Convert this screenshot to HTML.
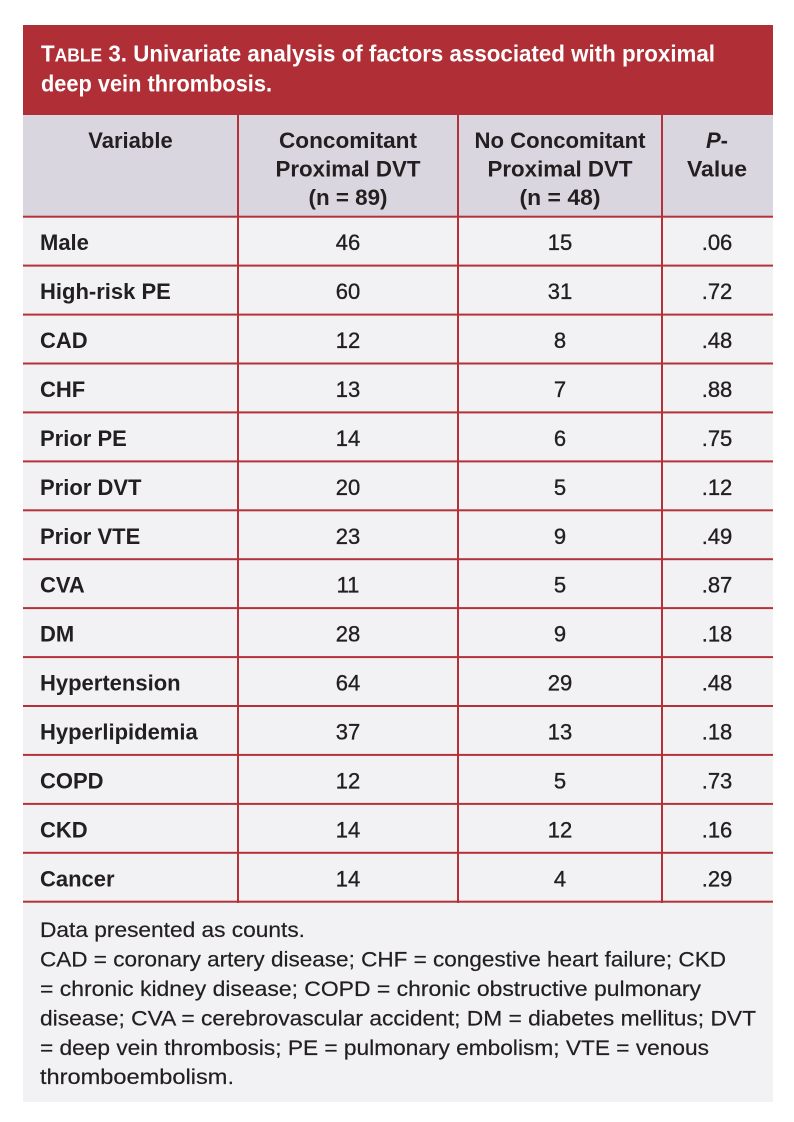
<!DOCTYPE html>
<html>
<head>
<meta charset="utf-8">
<style>
  html, body { margin: 0; padding: 0; background: #ffffff; }
  body { width: 794px; height: 1122px; overflow: hidden; }
  svg { display: block; }
  text { font-family: "Liberation Sans", "DejaVu Sans", sans-serif; fill: #231f20; }
  .t { fill: #ffffff; font-weight: bold; font-size: 23px; }
  .h { font-weight: bold; font-size: 22px; }
  .l { font-weight: bold; font-size: 22px; }
  .n { font-size: 22px; stroke: #231f20; stroke-width: 0.35px; }
  .f { font-size: 21px; stroke: #231f20; stroke-width: 0.2px; }
</style>
</head>
<body>
<svg width="794" height="1122" viewBox="0 0 794 1122" xmlns="http://www.w3.org/2000/svg">
  <!-- title bar -->
  <rect x="23" y="25" width="750" height="90" fill="#b02f36"/>
  <text class="t" x="41" y="61.7" textLength="674" lengthAdjust="spacingAndGlyphs">T<tspan font-size="18">ABLE</tspan> 3. Univariate analysis of factors associated with proximal</text>
  <text class="t" x="41" y="91.5" textLength="231" lengthAdjust="spacingAndGlyphs">deep vein thrombosis.</text>

  <!-- header row -->
  <rect x="23" y="115" width="750" height="102" fill="#d9d6df"/>
  <!-- body rows -->
  <rect x="23" y="217" width="750" height="885" fill="#f2f2f4"/>

  <!-- header text -->
  <text class="h" x="130.5" y="148" text-anchor="middle">Variable</text>
  <text class="h" x="348" y="148" text-anchor="middle" textLength="138" lengthAdjust="spacingAndGlyphs">Concomitant</text>
  <text class="h" x="348" y="176.5" text-anchor="middle" textLength="145" lengthAdjust="spacingAndGlyphs">Proximal DVT</text>
  <text class="h" x="348" y="205" text-anchor="middle" textLength="79" lengthAdjust="spacingAndGlyphs">(n = 89)</text>
  <text class="h" x="560" y="148" text-anchor="middle" textLength="171" lengthAdjust="spacingAndGlyphs">No Concomitant</text>
  <text class="h" x="560" y="176.5" text-anchor="middle" textLength="145" lengthAdjust="spacingAndGlyphs">Proximal DVT</text>
  <text class="h" x="560" y="205" text-anchor="middle" textLength="81" lengthAdjust="spacingAndGlyphs">(n = 48)</text>
  <text class="h" x="717" y="148" text-anchor="middle"><tspan font-style="italic">P</tspan>-</text>
  <text class="h" x="717" y="176.5" text-anchor="middle" textLength="60" lengthAdjust="spacingAndGlyphs">Value</text>

  <!-- grid lines -->
  <g fill="#b3323a">
    <rect x="237" y="115" width="2" height="788"/>
    <rect x="457" y="115" width="2" height="788"/>
    <rect x="661" y="115" width="2" height="788"/>
    <rect x="23" y="215.7" width="750" height="2"/>
    <rect x="23" y="264.6" width="750" height="2"/>
    <rect x="23" y="313.6" width="750" height="2"/>
    <rect x="23" y="362.5" width="750" height="2"/>
    <rect x="23" y="411.4" width="750" height="2"/>
    <rect x="23" y="460.4" width="750" height="2"/>
    <rect x="23" y="509.3" width="750" height="2"/>
    <rect x="23" y="558.2" width="750" height="2"/>
    <rect x="23" y="607.1" width="750" height="2"/>
    <rect x="23" y="656.1" width="750" height="2"/>
    <rect x="23" y="705.0" width="750" height="2"/>
    <rect x="23" y="753.9" width="750" height="2"/>
    <rect x="23" y="802.9" width="750" height="2"/>
    <rect x="23" y="851.8" width="750" height="2"/>
    <rect x="23" y="900.7" width="750" height="2"/>
  </g>

  <!-- rows -->
  <g>
    <text class="l" x="40" y="250.2">Male</text>
    <text class="n" x="348" y="250.2" text-anchor="middle">46</text>
    <text class="n" x="560" y="250.2" text-anchor="middle">15</text>
    <text class="n" x="717" y="250.2" text-anchor="middle">.06</text>

    <text class="l" x="40" y="299.1">High-risk PE</text>
    <text class="n" x="348" y="299.1" text-anchor="middle">60</text>
    <text class="n" x="560" y="299.1" text-anchor="middle">31</text>
    <text class="n" x="717" y="299.1" text-anchor="middle">.72</text>

    <text class="l" x="40" y="348.1">CAD</text>
    <text class="n" x="348" y="348.1" text-anchor="middle">12</text>
    <text class="n" x="560" y="348.1" text-anchor="middle">8</text>
    <text class="n" x="717" y="348.1" text-anchor="middle">.48</text>

    <text class="l" x="40" y="397.0">CHF</text>
    <text class="n" x="348" y="397.0" text-anchor="middle">13</text>
    <text class="n" x="560" y="397.0" text-anchor="middle">7</text>
    <text class="n" x="717" y="397.0" text-anchor="middle">.88</text>

    <text class="l" x="40" y="445.9">Prior PE</text>
    <text class="n" x="348" y="445.9" text-anchor="middle">14</text>
    <text class="n" x="560" y="445.9" text-anchor="middle">6</text>
    <text class="n" x="717" y="445.9" text-anchor="middle">.75</text>

    <text class="l" x="40" y="494.9">Prior DVT</text>
    <text class="n" x="348" y="494.9" text-anchor="middle">20</text>
    <text class="n" x="560" y="494.9" text-anchor="middle">5</text>
    <text class="n" x="717" y="494.9" text-anchor="middle">.12</text>

    <text class="l" x="40" y="543.8">Prior VTE</text>
    <text class="n" x="348" y="543.8" text-anchor="middle">23</text>
    <text class="n" x="560" y="543.8" text-anchor="middle">9</text>
    <text class="n" x="717" y="543.8" text-anchor="middle">.49</text>

    <text class="l" x="40" y="592.7">CVA</text>
    <text class="n" x="348" y="592.7" text-anchor="middle">11</text>
    <text class="n" x="560" y="592.7" text-anchor="middle">5</text>
    <text class="n" x="717" y="592.7" text-anchor="middle">.87</text>

    <text class="l" x="40" y="641.6">DM</text>
    <text class="n" x="348" y="641.6" text-anchor="middle">28</text>
    <text class="n" x="560" y="641.6" text-anchor="middle">9</text>
    <text class="n" x="717" y="641.6" text-anchor="middle">.18</text>

    <text class="l" x="40" y="690.6">Hypertension</text>
    <text class="n" x="348" y="690.6" text-anchor="middle">64</text>
    <text class="n" x="560" y="690.6" text-anchor="middle">29</text>
    <text class="n" x="717" y="690.6" text-anchor="middle">.48</text>

    <text class="l" x="40" y="739.5">Hyperlipidemia</text>
    <text class="n" x="348" y="739.5" text-anchor="middle">37</text>
    <text class="n" x="560" y="739.5" text-anchor="middle">13</text>
    <text class="n" x="717" y="739.5" text-anchor="middle">.18</text>

    <text class="l" x="40" y="788.4">COPD</text>
    <text class="n" x="348" y="788.4" text-anchor="middle">12</text>
    <text class="n" x="560" y="788.4" text-anchor="middle">5</text>
    <text class="n" x="717" y="788.4" text-anchor="middle">.73</text>

    <text class="l" x="40" y="837.4">CKD</text>
    <text class="n" x="348" y="837.4" text-anchor="middle">14</text>
    <text class="n" x="560" y="837.4" text-anchor="middle">12</text>
    <text class="n" x="717" y="837.4" text-anchor="middle">.16</text>

    <text class="l" x="40" y="886.3">Cancer</text>
    <text class="n" x="348" y="886.3" text-anchor="middle">14</text>
    <text class="n" x="560" y="886.3" text-anchor="middle">4</text>
    <text class="n" x="717" y="886.3" text-anchor="middle">.29</text>
  </g>

  <!-- footer -->
  <text class="f" x="40" y="937" textLength="265" lengthAdjust="spacingAndGlyphs">Data presented as counts.</text>
  <text class="f" x="40" y="966.5" textLength="686" lengthAdjust="spacingAndGlyphs">CAD = coronary artery disease; CHF = congestive heart failure; CKD</text>
  <text class="f" x="40" y="996" textLength="661" lengthAdjust="spacingAndGlyphs">= chronic kidney disease; COPD = chronic obstructive pulmonary</text>
  <text class="f" x="40" y="1025.5" textLength="716" lengthAdjust="spacingAndGlyphs">disease; CVA = cerebrovascular accident; DM = diabetes mellitus; DVT</text>
  <text class="f" x="40" y="1055" textLength="669" lengthAdjust="spacingAndGlyphs">= deep vein thrombosis; PE = pulmonary embolism; VTE = venous</text>
  <text class="f" x="40" y="1084" textLength="194" lengthAdjust="spacingAndGlyphs">thromboembolism.</text>
</svg>
</body>
</html>
